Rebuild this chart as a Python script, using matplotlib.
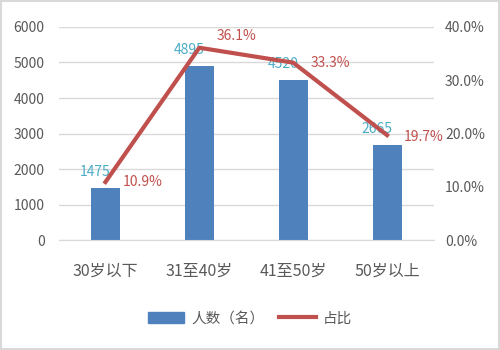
import matplotlib.pyplot as plt
from matplotlib.ticker import PercentFormatter
from matplotlib.lines import Line2D
from matplotlib.patches import Patch

plt.rcParams['font.family'] = ['Noto Sans CJK SC', 'DejaVu Sans']

categories = ['30岁以下', '31至40岁', '41至50岁', '50岁以上']
counts = [1475, 4895, 4520, 2665]
shares = [10.9, 36.1, 33.3, 19.7]

bar_color = '#4F81BD'
line_color = '#C0504D'
count_label_color = '#4BACC6'
tick_color = '#595959'

fig = plt.figure(figsize=(5, 3.5), dpi=100)
ax = fig.add_axes([0.117, 0.314, 0.751, 0.609])
ax2 = ax.twinx()

x = range(len(categories))
ax.bar(x, counts, width=0.31, color=bar_color, zorder=2)
ax2.plot(x, shares, color=line_color, linewidth=3, zorder=3)

ax.set_ylim(0, 6000)
ax.set_yticks(range(0, 6001, 1000))
ax2.set_ylim(0, 40)
ax2.set_yticks(range(0, 41, 10))
ax2.yaxis.set_major_formatter(PercentFormatter(decimals=1))
ax.set_xlim(-0.5, len(categories) - 0.5)
ax.set_xticks(list(x))
ax.set_xticklabels(categories)

ax.yaxis.grid(True, color='#D9D9D9', linewidth=1)
ax.set_axisbelow(True)
for a in (ax, ax2):
    for s in a.spines.values():
        s.set_visible(False)
    a.tick_params(length=0, labelsize=10, labelcolor=tick_color)
ax.spines['bottom'].set_visible(True)
ax.spines['bottom'].set_color('#D9D9D9')
ax.tick_params(axis='x', pad=16, labelsize=11.5)
ax.tick_params(axis='y', pad=10)
ax2.tick_params(axis='y', pad=8)

for i, v in enumerate(counts):
    ax.annotate(str(v), (i, v), xytext=(-10, 16), textcoords='offset pixels',
                ha='center', va='center', color=count_label_color, fontsize=10)
offsets = [(17, 0), (17, 12), (17, 0), (17, -2)]
for i, v in enumerate(shares):
    ax2.annotate(f'{v:.1f}%', (i, v), xytext=offsets[i], textcoords='offset pixels',
                 ha='left', va='center', color=line_color, fontsize=10)

handles = [Patch(color=bar_color), Line2D([0], [0], color=line_color, linewidth=3)]
fig.legend(handles, ['人数（名）', '占比'], loc='center', bbox_to_anchor=(0.5, 0.09),
           ncol=2, frameon=False, fontsize=10.5, labelcolor=tick_color,
           handlelength=2.5, columnspacing=1.0, handletextpad=0.5)

fig.patches.append(plt.Rectangle((0.002, 0.003), 0.995, 0.994, transform=fig.transFigure,
                                 fill=False, edgecolor='#D9D9D9', linewidth=1.5))
fig.savefig('out.png', dpi=100)
